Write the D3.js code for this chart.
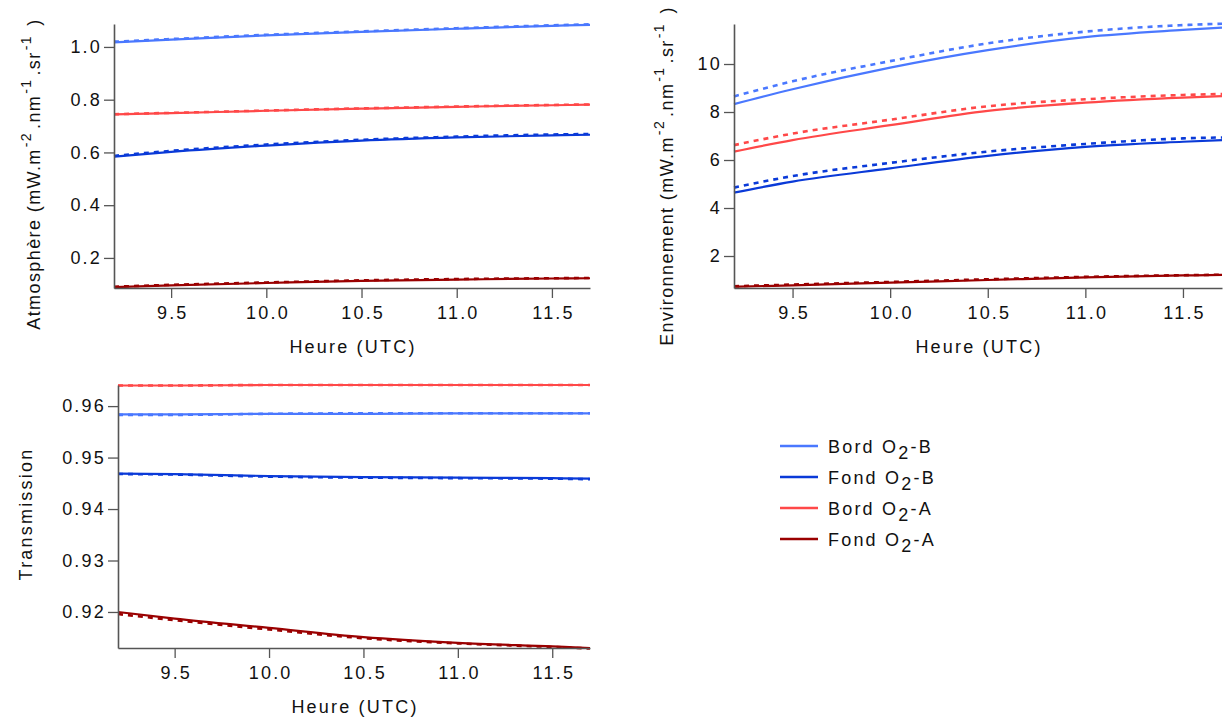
<!DOCTYPE html>
<html><head><meta charset="utf-8">
<script src="https://cdn.jsdelivr.net/npm/d3@7"></script>
<style>
body{margin:0;background:#fff;}
svg{font-family:"Liberation Sans",Arial,sans-serif;}
svg text{letter-spacing:2.2px;}
svg text.ylab{letter-spacing:1.4px;}
</style></head>
<body><svg id="c" width="1223" height="720"></svg>
<script>
// ---- data ----
const hours = [9.2, 9.5, 10.0, 10.5, 11.0, 11.5, 11.7];
const xTicks = [9.5, 10.0, 10.5, 11.0, 11.5];
const seriesNames = ["Bord O2-B", "Fond O2-B", "Bord O2-A", "Fond O2-A"];
const seriesColors = ["#4a78ff", "#0a3ad8", "#ff4848", "#9a0000"];

// Atmosphère
const atmBordB      = [1.017, 1.028, 1.044, 1.057, 1.069, 1.080, 1.084];
const atmBordBDash  = [1.020, 1.030, 1.046, 1.059, 1.071, 1.082, 1.086];
const atmFondB      = [0.584, 0.602, 0.626, 0.645, 0.657, 0.665, 0.667];
const atmFondBDash  = [0.587, 0.606, 0.630, 0.648, 0.660, 0.668, 0.670];
const atmBordA      = [0.744, 0.749, 0.758, 0.766, 0.773, 0.779, 0.781];
const atmBordADash  = [0.745, 0.750, 0.759, 0.767, 0.774, 0.780, 0.782];
const atmFondA      = [0.089, 0.096, 0.105, 0.113, 0.118, 0.122, 0.123];
const atmFondADash  = [0.091, 0.098, 0.107, 0.115, 0.120, 0.123, 0.124];
const atmTicks = [0.2, 0.4, 0.6, 0.8, 1.0];

// Environnement
const envBordB      = [8.33, 8.95, 9.85, 10.58, 11.12, 11.42, 11.52];
const envBordBDash  = [8.65, 9.28, 10.12, 10.86, 11.35, 11.62, 11.68];
const envFondB      = [4.64, 5.10, 5.65, 6.17, 6.55, 6.76, 6.83];
const envFondBDash  = [4.85, 5.33, 5.88, 6.35, 6.67, 6.90, 6.94];
const envBordA      = [6.35, 6.83, 7.45, 8.05, 8.39, 8.60, 8.66];
const envBordADash  = [6.62, 7.10, 7.68, 8.24, 8.53, 8.71, 8.75];
const envFondA      = [0.72, 0.78, 0.89, 1.00, 1.11, 1.19, 1.21];
const envFondADash  = [0.74, 0.81, 0.92, 1.03, 1.13, 1.20, 1.22];
const envTicks = [2, 4, 6, 8, 10];

// Transmission
const trBordB      = [0.9584, 0.9584, 0.9585, 0.9585, 0.9586, 0.9586, 0.9586];
const trBordBDash  = [0.9583, 0.9583, 0.9585, 0.9586, 0.9586, 0.9586, 0.9586];
const trFondB      = [0.9469, 0.9468, 0.9464, 0.9462, 0.9461, 0.9460, 0.9459];
const trFondBDash  = [0.9468, 0.9467, 0.9463, 0.9461, 0.9460, 0.9459, 0.9458];
const trBordA      = [0.9640, 0.9640, 0.9641, 0.9641, 0.9641, 0.9641, 0.9641];
const trBordADash  = [0.9640, 0.9640, 0.9641, 0.9641, 0.9641, 0.9641, 0.9641];
const trFondA      = [0.9200, 0.9187, 0.9169, 0.9151, 0.9140, 0.9133, 0.9130];
const trFondADash  = [0.9196, 0.9184, 0.9166, 0.9149, 0.9139, 0.9132, 0.9129];
const trTicks = [0.92, 0.93, 0.94, 0.95, 0.96];

// ---- drawing ----
const svg = d3.select("#c");
const axisColor = "#555";
const textColor = "#111";
const fs = 18;

function panel(opts) {
  const x = d3.scaleLinear().domain([9.2, 11.7]).range([opts.x0, opts.x1]);
  const y = d3.scaleLinear().domain(opts.yDomain).range([opts.y1, opts.y0]);
  const g = svg.append("g");

  const line = d3.line().x((d, i) => x(hours[i])).y(d => y(d)).curve(d3.curveMonotoneX);
  opts.solid.forEach((s, k) => {
    g.append("path").attr("d", line(s)).attr("fill", "none")
      .attr("stroke", seriesColors[k]).attr("stroke-width", 2.2);
  });
  opts.dash.forEach((s, k) => {
    g.append("path").attr("d", line(s)).attr("fill", "none")
      .attr("stroke", seriesColors[k]).attr("stroke-width", 2.6)
      .attr("stroke-dasharray", "5,5");
  });

  const xa = g.append("g").attr("transform", `translate(0,${opts.y1})`)
    .call(d3.axisBottom(x).tickValues(xTicks).tickFormat(d3.format(".1f")).tickSize(10).tickSizeOuter(0).tickPadding(8));
  const ya = g.append("g").attr("transform", `translate(${opts.x0},0)`)
    .call(d3.axisLeft(y).tickValues(opts.yTicks).tickFormat(d3.format(opts.yFmt)).tickSize(10).tickSizeOuter(0).tickPadding(2));
  [xa, ya].forEach(a => {
    a.select(".domain").attr("stroke", axisColor).attr("stroke-width", 1.6);
    a.selectAll(".tick line").attr("stroke", axisColor).attr("stroke-width", 1.3);
    a.selectAll(".tick text").attr("fill", textColor).attr("font-size", fs)
      .attr("font-family", "'Liberation Sans', Arial, sans-serif");
  });
  xa.selectAll(".tick text").attr("dx", "1.1px");

  g.append("text").attr("x", (opts.x0 + opts.x1) / 2 + 1).attr("y", opts.y1 + 65)
    .attr("text-anchor", "middle").attr("font-size", fs).attr("fill", textColor)
    .text("Heure (UTC)");

  const yl = g.append("text").attr("class", opts.ylabel.length > 1 ? "ylab" : null)
    .attr("transform", `translate(${opts.ylx},${opts.yly}) rotate(-90)`)
    .attr("text-anchor", "middle").attr("font-size", fs).attr("fill", textColor);
  opts.ylabel.forEach(p => {
    const t = yl.append("tspan").text(p.t);
    if (p.sup) t.attr("dy", -9).attr("font-size", 14).attr("dx", 1);
    if (p.back) t.attr("dy", 9).attr("dx", 3);
  });
}

const unitParts = (name) => [
  {t: name + " (mW.m"}, {t: "-2", sup: true}, {t: ".nm", back: true},
  {t: "-1", sup: true}, {t: ".sr", back: true}, {t: "-1", sup: true}, {t: " )", back: true}
];

panel({
  x0: 114, x1: 590, y0: 24, y1: 288, yDomain: [0.086, 1.087],
  yTicks: atmTicks, yFmt: ".1f",
  solid: [atmBordB, atmFondB, atmBordA, atmFondA],
  dash: [atmBordBDash, atmFondBDash, atmBordADash, atmFondADash],
  ylabel: unitParts("Atmosphère"), ylx: 40, yly: 174
});

panel({
  x0: 734, x1: 1222, y0: 24, y1: 288, yDomain: [0.667, 11.667],
  yTicks: envTicks, yFmt: "d",
  solid: [envBordB, envFondB, envBordA, envFondA],
  dash: [envBordBDash, envFondBDash, envBordADash, envFondADash],
  ylabel: unitParts("Environnement"), ylx: 673, yly: 176
});

panel({
  x0: 118, x1: 590, y0: 385, y1: 648, yDomain: [0.913, 0.9641],
  yTicks: trTicks, yFmt: ".2f",
  solid: [trBordB, trFondB, trBordA, trFondA],
  dash: [trBordBDash, trFondBDash, trBordADash, trFondADash],
  ylabel: [{t: "Transmission"}], ylx: 32, yly: 514
});

// legend
const legY = [446, 477, 508, 539];
const leg = svg.append("g");
seriesNames.forEach((n, i) => {
  leg.append("line").attr("x1", 780).attr("x2", 818).attr("y1", legY[i]).attr("y2", legY[i])
    .attr("stroke", seriesColors[i]).attr("stroke-width", 2.6);
  const parts = n.split("O2");
  const t = leg.append("text").attr("x", 828).attr("y", legY[i] + 7)
    .attr("font-size", fs).attr("fill", textColor);
  t.append("tspan").text(parts[0] + "O");
  t.append("tspan").attr("dy", 6).text("2");
  t.append("tspan").attr("dy", -6).text(parts[1]);
});
</script></body></html>
